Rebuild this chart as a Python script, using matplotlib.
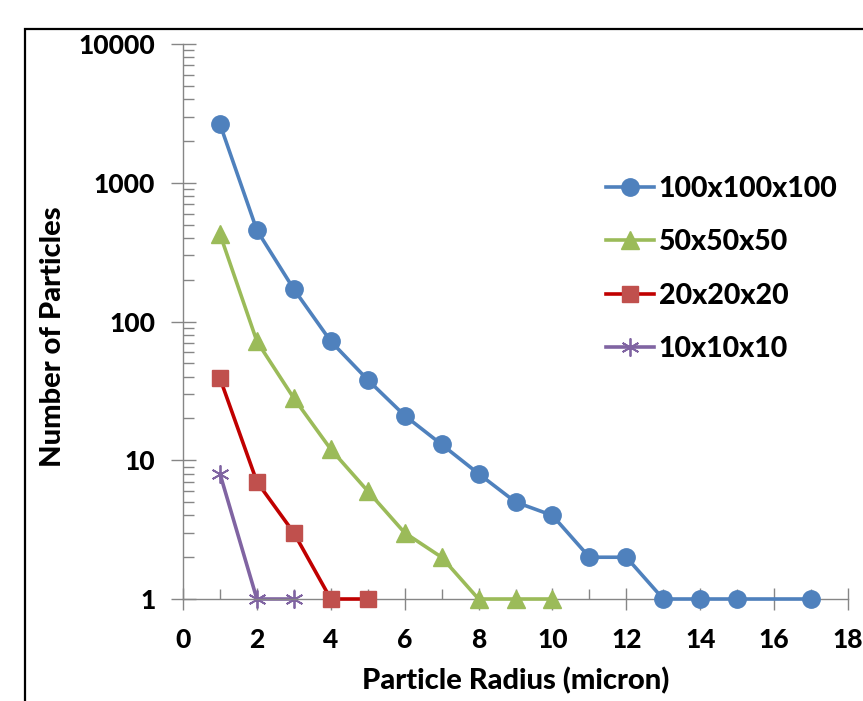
import matplotlib
matplotlib.use("Agg")
import matplotlib.pyplot as plt
from matplotlib.ticker import FixedLocator, NullFormatter, LogLocator, FuncFormatter
from matplotlib.patches import Rectangle

plt.rcParams['font.family'] = ['Lato', 'DejaVu Sans']

# Data
x_100 = [1, 2, 3, 4, 5, 6, 7, 8, 9, 10, 11, 12, 13, 14, 15, 17]
y_100 = [2650, 455, 171, 72, 38, 21, 13, 8, 5, 4, 2, 2, 1, 1, 1, 1]
x_50 = [1, 2, 3, 4, 5, 6, 7, 8, 9, 10]
y_50 = [427, 72, 28, 12, 6, 3, 2, 1, 1, 1]
x_20 = [1, 2, 3, 4, 5]
y_20 = [39, 7, 3, 1, 1]
x_10 = [1, 2, 3]
y_10 = [8, 1, 1]
labels = ["100x100x100", "50x50x50", "20x20x20", "10x10x10"]
x_ticks = [0, 2, 4, 6, 8, 10, 12, 14, 16, 18]
x_minor = [1, 3, 5, 7, 9, 11, 13, 15, 17]
y_ticks = [1, 10, 100, 1000, 10000]

W, H = 863, 701
fig = plt.figure(figsize=(W / 100, H / 100), dpi=100)
ax = fig.add_axes([183 / W, 1 - 599 / H, (848 - 183) / W, (599 - 44) / H])

common = dict(lw=2.6, clip_on=False)
ax.plot(x_100, y_100, color='#4F81BD', marker='o', ms=12.5,
        mfc='#4F81BD', mec='#4F81BD', label=labels[0], zorder=5, **common)
ax.plot(x_50, y_50, color='#9BBB59', marker='^', ms=13,
        mfc='#9BBB59', mec='#9BBB59', label=labels[1], zorder=4, **common)
ax.plot(x_20, y_20, color='#C00000', marker='s', ms=11,
        mfc='#C0504D', mec='#C0504D', label=labels[2], zorder=3, **common)
ax.plot(x_10, y_10, color='#8064A2', marker=(6, 2, 0), ms=13,
        mfc='#8064A2', mec='#8064A2', mew=1.3, label=labels[3], zorder=2, **common)

ax.set_yscale('log')
ax.set_ylim(1, 10000)
ax.set_xlim(0, 18)

ax.xaxis.set_major_locator(FixedLocator(x_ticks))
ax.xaxis.set_minor_locator(FixedLocator(x_minor))
ax.yaxis.set_major_locator(FixedLocator(y_ticks))
ax.yaxis.set_minor_locator(LogLocator(base=10, subs=range(2, 10)))
ax.yaxis.set_minor_formatter(NullFormatter())
ax.yaxis.set_major_formatter(FuncFormatter(lambda v, p: f"{int(round(v))}"))

gray = '#868686'
for s in ['top', 'right']:
    ax.spines[s].set_visible(False)
for s in ['left', 'bottom']:
    ax.spines[s].set_color(gray)
    ax.spines[s].set_linewidth(1.0)

WEIGHT = 'black'
ax.tick_params(axis='y', which='major', direction='inout', length=18, width=1.0,
               color=gray, labelsize=19, pad=11)
ax.tick_params(axis='y', which='minor', direction='in', length=8, width=1.0, color=gray)
ax.tick_params(axis='x', which='major', direction='inout', length=16, width=1.0,
               color=gray, labelsize=19, pad=13)
ax.tick_params(axis='x', which='minor', direction='in', length=7, width=1.0, color=gray)
for lab in ax.get_xticklabels() + ax.get_yticklabels():
    lab.set_fontweight(WEIGHT)

ax.set_xlabel('Particle Radius (micron)', fontsize=21, fontweight=WEIGHT, labelpad=11)
ax.set_ylabel('Number of Particles', fontsize=21, fontweight=WEIGHT, labelpad=9)
ax.yaxis.label.set_y(0.473)

leg = ax.legend(loc='upper left', bbox_to_anchor=(606 / W, 1 - 176 / H),
                bbox_transform=fig.transFigure, frameon=False,
                prop={'weight': WEIGHT, 'size': 20.5}, borderpad=0, borderaxespad=0,
                handlelength=1.7, handletextpad=0.15, labelspacing=0.96,
                markerscale=1.0)

fig.patches.append(Rectangle((25 / W, -0.02), 1.05, 1 - 29 / H + 0.02,
                             transform=fig.transFigure, fill=False,
                             edgecolor='black', linewidth=1.6, zorder=10))

fig.savefig('out.png', dpi=100)
